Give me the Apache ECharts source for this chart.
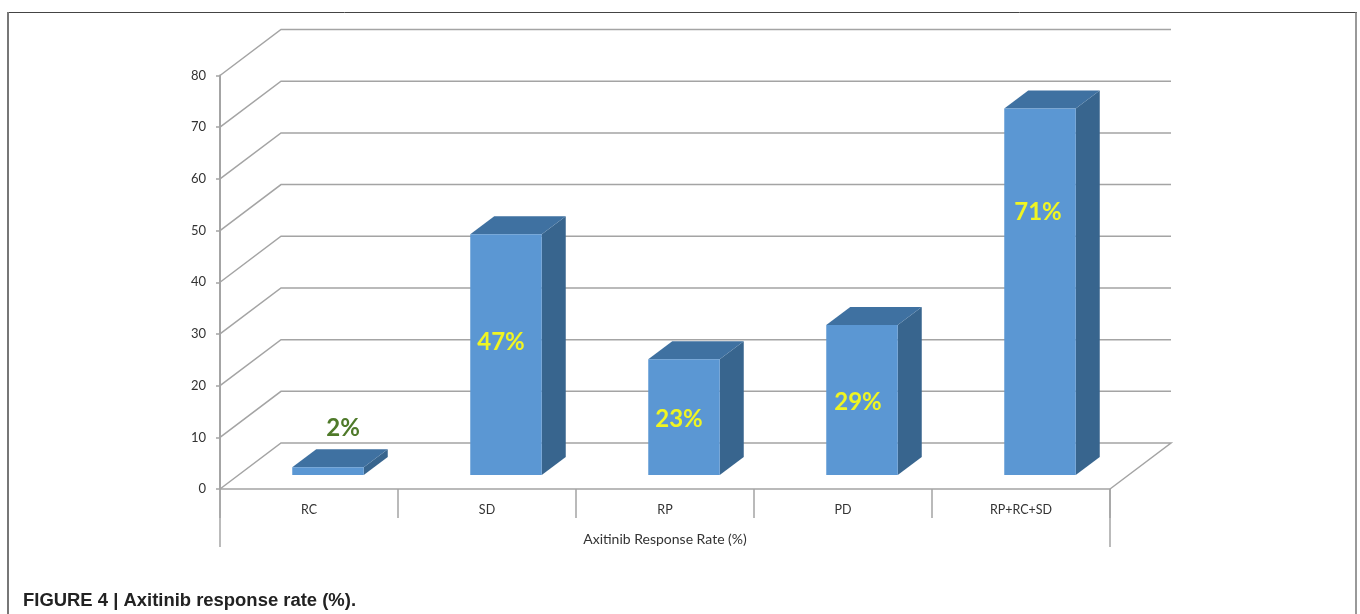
<!DOCTYPE html>
<html><head><meta charset="utf-8">
<style>html,body{margin:0;padding:0;background:#fff}#c{width:1360px;height:614px}</style>
<script src="https://cdn.jsdelivr.net/npm/echarts@6/dist/echarts.min.js"></script>
</head><body><div id="c"></div>
<script>
const categories = ['RC','SD','RP','PD','RP+RC+SD'];
const barValues = [1.5,46.6,22.4,29,70.9];
const barLabels = ['2%','47%','23%','29%','71%'];
const labelHeights = [11.8,28.4,13.4,16.8,53.5];
const labelShifts = [15,-5,-5,-4,-2];
const yTicks = [0,10,20,30,40,50,60,70,80];

const GREY='#a4a4a4', WALL=[61,-46], FLOOR=[19,-14], DEPTH=[24,-18], BAR_W=71.5;
const chart = echarts.init(document.getElementById('c'),null,{renderer:'canvas'});

function wallItem(params, api){
  const v=api.value(0), p=api.coord([0,v]), w=api.size([1,0])[0];
  const l=p[0]-w/2, r=l+w*categories.length, y=p[1];
  const pts=[[l,y],[l+WALL[0],y+WALL[1]],[r+WALL[0],y+WALL[1]]];
  if(v===0) pts.push([r,y]);
  return {type:'polyline',shape:{points:pts},style:{stroke:GREY,lineWidth:1.5,fill:null},silent:true};
}
function barItem(params, api){
  const i=api.value(0), v=api.value(1);
  const top=api.coord([i,v]), base=api.coord([i,0]);
  const x0=top[0]+FLOOR[0]-BAR_W/2, x1=x0+BAR_W;
  const yT=top[1]+FLOOR[1], yB=base[1]+FLOOR[1];
  const dx=DEPTH[0], dy=DEPTH[1];
  const labelY=api.coord([i,labelHeights[i]])[1];
  const outside=i===0;
  return {type:'group',children:[
    {type:'polygon',shape:{points:[[x1,yT],[x1+dx,yT+dy],[x1+dx,yB+dy],[x1,yB]]},style:{fill:'#38658e'}},
    {type:'polygon',shape:{points:[[x0,yT],[x0+dx,yT+dy],[x1+dx,yT+dy],[x1,yT]]},style:{fill:'#3f71a1'}},
    {type:'rect',shape:{x:x0,y:yT,width:BAR_W,height:yB-yT},style:{fill:'#5b97d3'}},
    {type:'text',x:top[0]+FLOOR[0]+labelShifts[i],y:labelY,style:{text:barLabels[i],fill:outside?'#4f7a2a':'#f0f522',
      font:'bold 24px Lato, "Open Sans", sans-serif',align:'center',verticalAlign:'middle'}}
  ]};
}
chart.setOption({
  animation:false,
  backgroundColor:'#fff',
  grid:{left:220,right:250,top:75.5,bottom:125},
  xAxis:{type:'category',data:categories,
    axisLine:{lineStyle:{color:GREY,width:1.5}},
    axisTick:{show:true,alignWithLabel:false,length:29,lineStyle:{color:GREY,width:1.5}},
    axisLabel:{color:'#333',fontFamily:'Lato',fontSize:12.5,margin:14},
    name:'Axitinib Response Rate (%)',nameLocation:'middle',nameGap:43,
    nameTextStyle:{color:'#333',fontFamily:'Lato',fontSize:14},
    splitLine:{show:false}},
  yAxis:{type:'value',min:0,max:80,interval:10,
    axisLine:{show:true,lineStyle:{color:GREY,width:2}},
    axisTick:{show:true,length:4,lineStyle:{color:GREY,width:1.5}},
    axisLabel:{color:'#333',fontFamily:'Lato',fontSize:13,margin:14},
    splitLine:{show:false}},
  series:[
    {type:'custom',name:'walls',coordinateSystem:'cartesian2d',data:yTicks.map(v=>[v]),renderItem:wallItem,encode:{y:0},clip:false,z:1,silent:true},
    {type:'custom',name:'Axitinib Response Rate (%)',coordinateSystem:'cartesian2d',data:barValues.map((v,i)=>[i,v]),renderItem:barItem,encode:{x:0,y:1},clip:false,z:3,silent:true}
  ],
  graphic:[
    {type:'line',shape:{x1:7,y1:12.5,x2:1357,y2:12.5},style:{stroke:'#444',lineWidth:1},silent:true},
    {type:'line',shape:{x1:8,y1:12,x2:8,y2:614},style:{stroke:'#777',lineWidth:2},silent:true},
    {type:'line',shape:{x1:1356,y1:12,x2:1356,y2:614},style:{stroke:'#777',lineWidth:1.5},silent:true},
    {type:'line',shape:{x1:220,y1:489,x2:220,y2:547},style:{stroke:GREY,lineWidth:1.5},silent:true},
    {type:'line',shape:{x1:1110,y1:489,x2:1110,y2:547},style:{stroke:GREY,lineWidth:1.5},silent:true},
    {type:'text',x:23,y:591.5,style:{text:'FIGURE 4 | Axitinib response rate (%).',fill:'#222',font:'bold 18.45px "Liberation Sans", Arial, sans-serif'},silent:true}
  ]
});
</script></body></html>
